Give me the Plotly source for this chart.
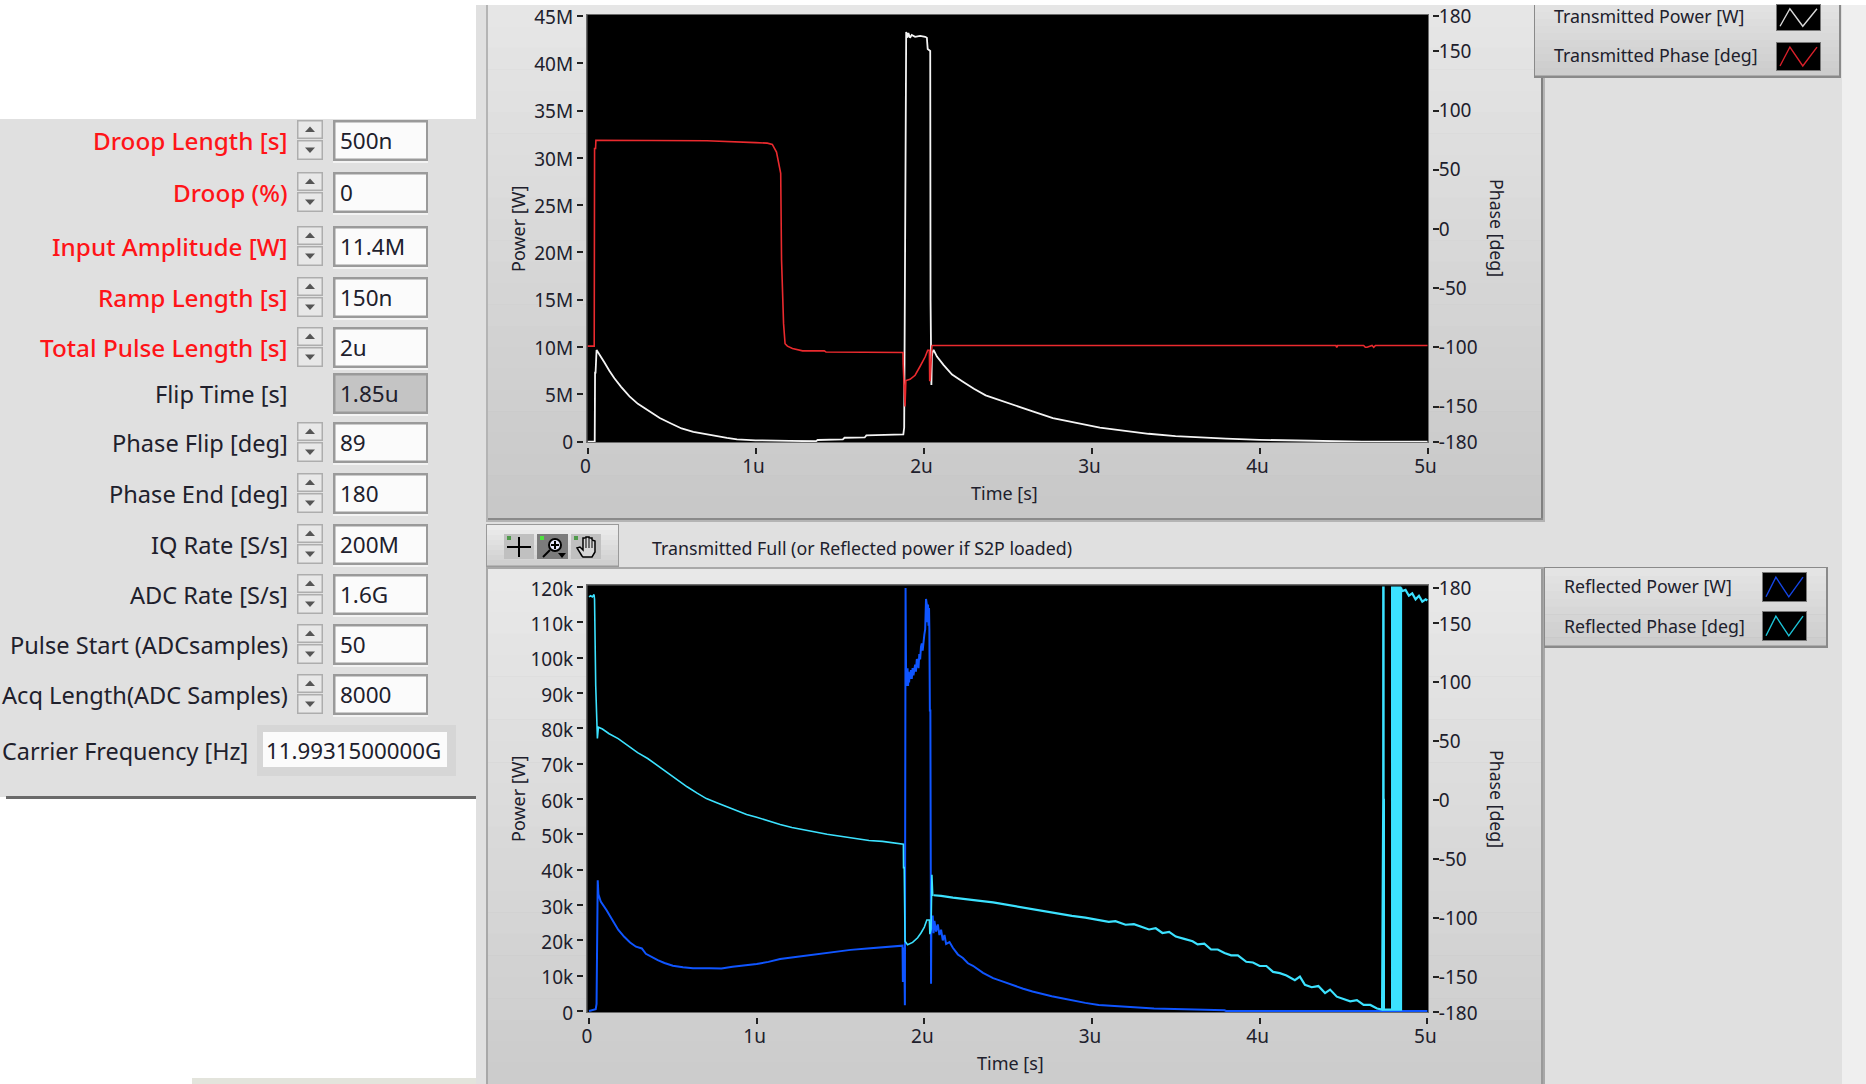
import plotly.graph_objects as go

W, H = 1866, 1084

# ---------- data (time in microseconds) ----------
tx_power_t = [0, 0.043, 0.045, 0.048, 0.054, 0.07, 0.1, 0.13, 0.16, 0.2, 0.25, 0.3, 0.37, 0.43, 0.5, 0.56, 0.63, 0.7,
              0.77, 0.83, 0.89, 1.0, 1.2, 1.36, 1.37, 1.52, 1.53, 1.65, 1.66, 1.77, 1.78, 1.88, 1.885, 1.89, 1.897,
              1.905, 1.91, 1.92, 1.93, 1.95, 1.98, 2.01, 2.02, 2.025, 2.04, 2.042, 2.047, 2.05, 2.053, 2.06, 2.08, 2.12,
              2.17, 2.23, 2.3, 2.37, 2.45, 2.54, 2.65, 2.77, 2.9, 3.05, 3.2, 3.34, 3.5, 3.64, 3.8, 4.0, 4.3, 4.6, 4.61, 5.0]
tx_power = [0, 0, 7.3, 7.3, 9.7, 9.2, 8.4, 7.5, 6.7, 5.8, 4.8, 4.0, 3.2, 2.5, 1.9, 1.4, 1.05, 0.8,
            0.6, 0.4, 0.25, 0.15, 0.08, 0.05, 0.18, 0.25, 0.42, 0.45, 0.66, 0.7, 0.78, 0.78, 1.5, 21.5, 43.3,
            42.7, 43.2, 42.7, 43.0, 42.8, 42.9, 42.8, 42.7, 41.5, 41.3, 15.0, 6.0, 9.0, 9.4, 9.7, 9.0, 8.1,
            7.1, 6.4, 5.6, 4.9, 4.4, 3.9, 3.2, 2.5, 2.0, 1.5, 1.15, 0.84, 0.6, 0.44, 0.32, 0.2, 0.1, 0.05, 0.0, 0.0]

tx_phase_t = [0, 0.04, 0.042, 0.048, 0.05, 0.4, 0.7, 0.71, 1.0, 1.07, 1.1, 1.125, 1.15, 1.155, 1.167, 1.176, 1.19, 1.22,
              1.28, 1.41, 1.42, 1.878, 1.879, 1.89, 1.895, 1.897, 1.92, 1.95, 1.98, 2.01, 2.025, 2.035, 2.037, 2.04,
              2.05, 2.052, 3.0, 4.455, 4.46, 4.465, 4.62, 4.63, 4.64, 4.67, 4.68, 4.69, 5.0]
tx_phase = [-99, -99, 68, 68, 75, 75, 75, 74.6, 73, 72.5, 71.5, 65, 47, -26, -80, -97, -99, -101,
            -103, -103, -104, -104.4, -114, -150, -128, -128, -127, -123.6, -116, -108, -102.5, -102.5, -128, -128,
            -99, -98.5, -98.5, -98.5, -100, -98.5, -98.5, -100, -100, -98.5, -100, -98.5, -98.5]

rf_power_t = [0, 0.04, 0.045, 0.052, 0.056, 0.07, 0.104, 0.14, 0.174, 0.21, 0.245, 0.28, 0.315, 0.339, 0.37, 0.41, 0.45, 0.5,
              0.56, 0.62, 0.72, 0.79, 0.856, 0.93, 1.0, 1.07, 1.14, 1.22, 1.3, 1.38, 1.47, 1.56, 1.66, 1.76, 1.87,
              1.872, 1.875, 1.878, 1.88, 1.884, 1.885, 1.887, 1.888, 1.89, 1.892, 1.894, 1.897, 1.9, 1.903, 1.906, 1.909, 1.912,
              1.915, 1.92, 1.925, 1.93, 1.935, 1.94, 1.945, 1.95, 1.955, 1.96, 1.965, 1.97, 1.975, 1.98, 1.985, 1.99, 1.995, 2.0,
              2.005, 2.01, 2.015, 2.018, 2.022, 2.025, 2.028, 2.03, 2.033, 2.036, 2.04, 2.042, 2.045, 2.05, 2.055, 2.06, 2.07, 2.08,
              2.09, 2.1, 2.11, 2.12, 2.13, 2.15, 2.17, 2.2, 2.23, 2.26, 2.29, 2.35, 2.41, 2.47, 2.53, 2.59, 2.645, 2.7,
              2.76, 2.82, 2.88, 2.96, 3.04, 3.16, 3.37, 3.79, 3.8, 5.0]
rf_power = [0, 0.5, 2, 37, 33, 31, 28.6, 25.5, 23, 21, 19.4, 18.2, 17.7, 16.2, 15.4, 14.4, 13.6, 12.8,
            12.4, 12.1, 12.1, 12.0, 12.5, 12.9, 13.3, 13.9, 14.7, 15.2, 15.7, 16.3, 16.9, 17.3, 17.7, 18.1, 18.5,
            8.2, 17, 8.5, 18, 1.6, 119.7, 1.6, 119.7, 102, 92, 96, 94, 97, 92, 96, 93, 95,
            94, 96.5, 94, 97, 95, 96.8, 98, 96, 99.5, 99.3, 97, 101, 99.5, 103, 104, 102, 106, 106.5,
            108, 116.6, 115, 110, 115, 109, 114, 108, 85, 85, 7.7, 27, 24, 27, 22, 25.5, 22.5, 24.5,
            21.5, 23, 20, 21.5, 19, 19.5, 17.9, 16, 15, 13.5, 12.8, 10.8, 9.3, 8.3, 7.2, 6.3, 5.5, 4.8,
            4.2, 3.6, 3.0, 2.3, 1.7, 1.3, 0.7, 0.2, 0.0, 0.0]

rf_phase_early_t = [0, 0.01, 0.02, 0.03, 0.033, 0.04, 0.05, 0.052, 0.056, 0.08, 0.12, 0.174, 0.23, 0.29, 0.35, 0.41, 0.47, 0.527, 0.585, 0.645,
                    0.7, 0.762, 0.82, 0.88, 0.94, 1.0, 1.07, 1.14, 1.21, 1.28, 1.35, 1.42, 1.5, 1.585, 1.67, 1.75, 1.82, 1.875,
                    1.876, 1.88, 1.885, 1.9, 1.93, 1.96, 1.98, 2.0, 2.015, 2.03, 2.033, 2.04, 2.045, 2.05, 2.055]
rf_phase_early = [172, 173, 172, 174, 170, 96.6, 52, 60, 61.5, 60, 56, 51.8, 46, 40, 35, 29, 23, 16.6, 11, 5.6,
                  1, -2.6, -6, -9.6, -12.5, -14.8, -18, -21, -23.5, -25.5, -27.5, -29.2, -31, -33, -34.5, -35.3, -36.5, -37.7,
                  -57.6, -57.6, -120, -123, -121, -117, -113, -108, -102, -102, -114, -110, -63.7, -81, -81]
rf_phase_late_t = [2.055, 2.1, 2.17, 2.24, 2.28, 2.32, 2.41,
                   2.47, 2.53, 2.58, 2.645, 2.72, 2.8, 2.88, 2.96, 3.05, 3.1, 3.14, 3.2, 3.25, 3.3, 3.34, 3.38, 3.42, 3.46, 3.5, 3.55, 3.6,
                   3.63, 3.67, 3.71, 3.75, 3.79, 3.83, 3.87, 3.92, 3.96, 4.0, 4.04, 4.08, 4.12, 4.16, 4.21, 4.24, 4.27, 4.31, 4.35, 4.39,
                   4.42, 4.46, 4.5, 4.54, 4.58, 4.62, 4.66, 4.7, 4.73, 4.737, 4.737, 4.739, 4.739, 4.741, 4.741, 4.79, 4.79, 4.795, 4.795, 4.8, 4.8,
                   4.805, 4.805, 4.81, 4.81, 4.815, 4.815, 4.82, 4.82, 4.825, 4.825, 4.833, 4.833, 4.838, 4.838, 4.843, 4.843, 4.85, 4.87, 4.89, 4.91, 4.93,
                   4.95, 4.97, 4.99, 5.0]
rf_phase_late = [-81, -81.5, -83, -84, -84.5, -85.5, -87,
                 -88.5, -90, -91.5, -92.7, -94.5, -96.5, -98.5, -100, -102, -103.5, -103, -106, -105.5, -108, -110, -109, -113, -112, -116, -118, -120,
                 -122.7, -122, -127, -127, -130, -132, -132, -137.4, -138, -141, -141, -146, -147, -149, -153, -150, -157, -159, -158, -164,
                 -161, -167, -169, -171, -170, -174, -174, -177, -178, 0, 180, 180, 0, 0, -178, -178, 180, 180, -178, -178, 180,
                 180, -178, -178, 180, 180, -178, -178, 180, 180, -178, -178, 180, 180, -178, -178, 180, 177, 178, 173, 175, 170,
                 173, 168, 170, 169]

power_ticks_top = [0, 5, 10, 15, 20, 25, 30, 35, 40, 45]
power_labels_top = ["0", "5M", "10M", "15M", "20M", "25M", "30M", "35M", "40M", "45M"]
power_ticks_bot = [0, 10, 20, 30, 40, 50, 60, 70, 80, 90, 100, 110, 120]
power_labels_bot = ["0", "10k", "20k", "30k", "40k", "50k", "60k", "70k", "80k", "90k", "100k", "110k", "120k"]
phase_ticks = [-180, -150, -100, -50, 0, 50, 100, 150, 180]
phase_labels = ["-180", "-150", "-100", "-50", "0", "50", "100", "150", "180"]
time_ticks = [0, 1, 2, 3, 4, 5]
time_labels = ["0", "1u", "2u", "3u", "4u", "5u"]

controls = [
    ("Droop Length [s]", "500n", True, True),
    ("Droop (%)", "0", True, True),
    ("Input Amplitude [W]", "11.4M", True, True),
    ("Ramp Length [s]", "150n", True, True),
    ("Total Pulse Length [s]", "2u", True, True),
    ("Flip Time [s]", "1.85u", False, False),
    ("Phase Flip [deg]", "89", False, True),
    ("Phase End [deg]", "180", False, True),
    ("IQ Rate [S/s]", "200M", False, True),
    ("ADC Rate [S/s]", "1.6G", False, True),
    ("Pulse Start (ADCsamples)", "50", False, True),
    ("Acq Length(ADC Samples)", "8000", False, True),
]
control_tops = [120, 172, 226, 277, 327, 373, 422, 473, 524, 574, 624, 674]

# ---------- helpers ----------
FONT = "Noto Sans"
INK = "#20202c"
BLUE = "#0f55ff"
CYAN = "#3ce2ff"
WHITE = "#f4f4f4"
RED = "#ea2a2e"
shapes, notes = [], []


def px(x):
    return x / W


def py(y):
    return 1 - y / H


def rect(x0, y0, x1, y1, fill, line=None, lw=1, layer="below"):
    shapes.append(dict(type="rect", xref="paper", yref="paper", x0=px(x0), x1=px(x1), y0=py(y1), y1=py(y0),
                       fillcolor=fill, line=dict(color=line, width=lw) if line else dict(width=0), layer=layer))


def seg(pts, color, lw=1, fill=None, close=False, layer="below"):
    d = "M" + " L".join(f"{px(a):.5f},{py(b):.5f}" for a, b in pts) + (" Z" if close else "")
    shapes.append(dict(type="path", xref="paper", yref="paper", path=d, fillcolor=fill,
                       line=dict(color=color, width=lw) if color else dict(width=0), layer=layer))


def text(x, y, s, size=18, color=INK, anchor="left", angle=0, font=FONT, weight=400):
    notes.append(dict(xref="paper", yref="paper", x=px(x), y=py(y), text=s, showarrow=False, xanchor=anchor,
                      yanchor="middle", textangle=angle, font=dict(family=font, size=size, color=color, weight=weight),
                      borderpad=0, borderwidth=0))


def gradient(x0, y0, x1, y1, c0, c1, n=24):
    for i in range(n):
        f = i / (n - 1)
        c = tuple(round(c0[k] + (c1[k] - c0[k]) * f) for k in range(3))
        rect(x0, y0 + (y1 - y0) * i / n, x1, y0 + (y1 - y0) * (i + 1) / n + 0.5, "rgb(%d,%d,%d)" % c)


# ---------- window ----------
rect(0, 0, W, H, "#ffffff")
rect(476, 5, 1842, H, "#e0e0e0")
rect(1842, 5, W, H, "#efefef")
rect(0, 119, 476, 797, "#e0e0e0")
rect(6, 796, 476, 799, "#6a6a6a")
rect(192, 1078, 476, H, "#e3e4dc")

# chart panels
rect(486, 5, 1545, 522, "#b4b4b4")
gradient(488, 5, 1541, 518, (230, 230, 230), (200, 200, 200))
rect(1541, 5, 1543, 519, "#808080")
rect(488, 518, 1543, 520, "#8a8a8a")
rect(486, 567, 1545, H, "#a8a8a8")
gradient(488, 569, 1541, H, (232, 232, 232), (204, 204, 204))
rect(1541, 569, 1543, H, "#9a9a9a")

# plot frames
rect(586, 14, 1429, 443, "#6c6c6c")
rect(587.5, 15, 1428, 442, "#000000")
rect(586, 584, 1429, 1013, "#6c6c6c")
rect(587.5, 585.5, 1428, 1012, "#000000")

# legends
rect(1534, 5, 1841, 78, "#8a8a8a")
gradient(1535, 5, 1839, 75, (226, 226, 226), (205, 205, 205), 10)
rect(1544, 567, 1828, 648, "#8a8a8a")
gradient(1545, 568, 1826, 645, (228, 228, 228), (205, 205, 205), 10)


def swatch(x0, y0, x1, y1, color):
    rect(x0 - 1, y0 - 1, x1 + 1, y1 + 1, "#777777")
    rect(x0, y0, x1, y1, "#000000")
    h = y1 - y0
    w = x1 - x0
    if h > 0:
        pts = [(x0 + 3, y0 + 0.85 * h), (x0 + 0.3 * w, y0 + 0.15 * h), (x0 + 0.6 * w, y0 + 0.85 * h), (x1 - 3, y0 + 0.15 * h)]
        seg(pts, color, 1.4)


swatch(1777, 5, 1820, 30, "#d8d8d8")
swatch(1777, 43, 1820, 70, "#d8202a")
swatch(1763, 573, 1806, 601, "#1446e6")
swatch(1763, 612, 1806, 640, "#1cc4d8")
text(1554, 16, "Transmitted Power [W]", 17.8)
text(1554, 55, "Transmitted Phase [deg]", 17.8)
text(1564, 586, "Reflected Power [W]", 17.8)
text(1564, 626, "Reflected Phase [deg]", 17.8)

# toolbar
rect(486, 524, 619, 567, "#9a9a9a")
gradient(487, 525, 618, 565, (236, 236, 236), (208, 208, 208), 8)
rect(504, 534, 534, 559, "#c0c0c0")
rect(537, 534, 568, 559, "#7c7c7c")
rect(571, 534, 601, 559, "#c0c0c0")
seg([(507, 547), (531, 547)], "#000000", 2)
seg([(519, 537), (519, 557)], "#000000", 2)
rect(507, 536, 511, 540, "#4f9a4a")
rect(540, 536, 544, 540, "#50e040")
rect(574, 536, 578, 540, "#4f9a4a")
shapes.append(dict(type="circle", xref="paper", yref="paper", x0=px(549), x1=px(561), y0=py(551), y1=py(539),
                   fillcolor="#e8e8ff", line=dict(color="#000000", width=2), layer="below"))
seg([(551, 545), (559, 545)], "#000000", 2)
seg([(555, 541), (555, 549)], "#000000", 2)
seg([(550, 550), (543, 557)], "#000000", 2)
seg([(558, 553), (566, 553), (562, 558)], None, 0, "#000000", True)
seg([(582, 556), (577, 548), (580, 547), (583, 550), (583, 538), (586, 538), (586, 537), (589, 537), (589, 538), (592, 538),
     (592, 540), (595, 541), (595, 552), (592, 557), (583, 557)], "#000000", 1.5, "#d8d8d8", True)
seg([(586, 539), (586, 548)], "#000000", 1)
seg([(589, 539), (589, 548)], "#000000", 1)
seg([(592, 541), (592, 548)], "#000000", 1)
text(652, 548, "Transmitted Full (or Reflected power if S2P loaded)", 17.8)

# control column
for (lab, val, red, spin), top in zip(controls, control_tops):
    mid = top + 20.5
    text(288, mid, lab, 24.3 if red else 23.6, "#ff1418" if red else INK, "right", weight=500 if red else 400)
    rect(333, top, 428, top + 41, "#9a9a9a")
    rect(335.5, top + 2.5, 426, top + 38.5, "#c4c4c4" if lab == "Flip Time [s]" else "#fbfbfb")
    rect(333, top + 41, 428, top + 43, "#f3f3f3")
    text(340, mid, val, 22.5)
    if spin:
        for a, b, up in ((top, top + 19, True), (top + 20, top + 40, False)):
            rect(297, a, 323, b, "#adadad")
            rect(298.5, a + 1.5, 321.5, b - 1.5, "#e8e8e8")
            cx, cy = 310, (a + b) / 2
            tri = [(cx - 5, cy + 2.5), (cx + 5, cy + 2.5), (cx, cy - 3)] if up else [(cx - 5, cy - 2.5), (cx + 5, cy - 2.5), (cx, cy + 3)]
            seg(tri, None, 0, "#555555", True)

text(248, 751, "Carrier Frequency [Hz]", 23.4, INK, "right")
rect(257, 725, 456, 776, "#d6d6d6")
rect(263, 732, 447, 767, "#fbfbfb")
text(266, 750, "11.9931500000G", 22.3)

# axis titles
text(518, 229, "Power [W]", 18, INK, "center", -90)
text(1497, 228, "Phase [deg]", 17.7, INK, "center", 90)
text(1004, 493, "Time [s]", 18, INK, "center")
text(518, 799, "Power [W]", 18, INK, "center", -90)
text(1497, 799, "Phase [deg]", 17.7, INK, "center", 90)
text(1010, 1063, "Time [s]", 18, INK, "center")

# ---------- traces ----------
fig = go.Figure()
fig.add_trace(go.Scatter(x=tx_power_t, y=tx_power, mode="lines", line=dict(color=WHITE, width=1.8), xaxis="x", yaxis="y", showlegend=False))
fig.add_trace(go.Scatter(x=tx_phase_t, y=tx_phase, mode="lines", line=dict(color=RED, width=1.6), xaxis="x", yaxis="y2", showlegend=False))
fig.add_trace(go.Scatter(x=rf_phase_early_t, y=rf_phase_early, mode="lines", line=dict(color=CYAN, width=1.6), xaxis="x2", yaxis="y4", showlegend=False))
fig.add_trace(go.Scatter(x=rf_phase_late_t, y=rf_phase_late, mode="lines", line=dict(color=CYAN, width=2.2), xaxis="x2", yaxis="y4", showlegend=False))
fig.add_trace(go.Scatter(x=rf_power_t, y=rf_power, mode="lines", line=dict(color=BLUE, width=2.0), xaxis="x2", yaxis="y3", showlegend=False))

tick_font = dict(family=FONT, size=19, color=INK)


def xax(dom, rng, pos):
    return dict(domain=[px(dom[0]), px(dom[1])], range=rng, tickvals=time_ticks, ticktext=time_labels, ticks="outside",
                ticklen=6, tickwidth=1.5, tickcolor="#222222", showgrid=False, zeroline=False, showline=False,
                anchor="free", position=py(pos), tickfont=tick_font, tickangle=0, fixedrange=True, automargin=False,
                ticklabelstandoff=-4, ticklabelshift=-2)


def yax(dom, rng, vals, labs, side, pos, **kw):
    return dict(domain=[py(dom[1]), py(dom[0])], range=rng, tickvals=vals, ticktext=labs, ticks="outside", ticklen=6,
                tickwidth=1.5, tickcolor="#222222", showgrid=False, zeroline=False, showline=False, side=side,
                anchor="free", position=px(pos), tickfont=tick_font, fixedrange=True, automargin=False, **kw)


fig.update_layout(
    width=W, height=H, margin=dict(l=0, r=0, t=0, b=0, pad=0, autoexpand=False), autosize=False,
    paper_bgcolor="#ffffff", plot_bgcolor="#000000", showlegend=False,
    shapes=shapes, annotations=notes,
    xaxis=xax((587.5, 1428), [0, 5.003], 447),
    yaxis=yax((15, 442), [-0.03, 45.1], power_ticks_top, power_labels_top, "left", 583, ticklabelshift=1),
    yaxis2=yax((15, 442), [-180, 180.8], phase_ticks, phase_labels, "right", 1432, overlaying="y", ticklabelstandoff=-4),
    xaxis2=xax((587.5, 1428), [-0.009, 5.004], 1017),
    yaxis3=yax((585.5, 1012), [-0.28, 120.4], power_ticks_bot, power_labels_bot, "left", 583, ticklabelshift=2),
    yaxis4=yax((585.5, 1012), [-180, 181.7], phase_ticks, phase_labels, "right", 1432, overlaying="y3", ticklabelstandoff=-4, ticklabelshift=1),
)

fig.write_html("out.html", post_script="document.body.style.margin='0';document.documentElement.style.overflow='hidden';",
               config=dict(displayModeBar=False))
